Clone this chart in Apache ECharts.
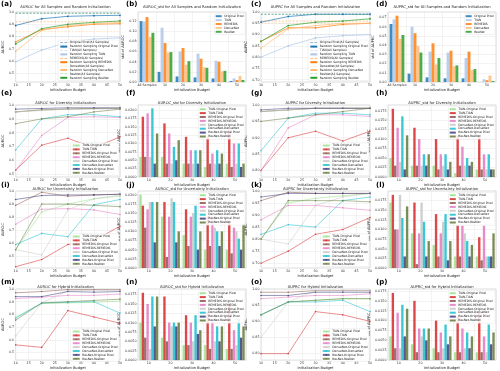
<!DOCTYPE html>
<html><head><meta charset="utf-8">
<script src="https://cdn.jsdelivr.net/npm/echarts@6/dist/echarts.min.js"></script>
<style>html,body{margin:0;padding:0;background:#fff}#c{width:500px;height:371px}</style>
</head><body><div id="c"></div>
<script>
// ---------- data ----------
const budgets = [10, 20, 30, 40, 50];
const barCatsAll = ['All Samples', '10', '20', '30', '40', '50'];
const barCats = ['10', '20', '30', '40', '50'];

const modelsA = ['Original Pixel', 'TIAN', 'REMEDIS', 'DenseNet', 'ResNet'];
const colorsA = ['#1f77b4', '#aec7e8', '#ff7f0e', '#ffbb78', '#2ca02c'];
const pairNames = ['TIAN-Original Pixel', 'TIAN-TIAN', 'REMEDIS-Original Pixel', 'REMEDIS-REMEDIS',
  'DenseNet-Original Pixel', 'DenseNet-DenseNet', 'ResNet-Original Pixel', 'ResNet-ResNet'];
const pairColors = ['#98df8a', '#d62728', '#8c564b', '#e377c2', '#c7c7c7', '#17becf', '#393b79', '#637939'];

// (a) AUROC all samples (horizontal) + random sampling
const a_all = [0.99, 0.80, 0.92, 0.84, 0.99];
const a_rand = [
  [0.89, 0.945, 0.965, 0.97, 0.973],
  [0.595, 0.69, 0.755, 0.78, 0.79],
  [0.757, 0.857, 0.88, 0.90, 0.905],
  [0.68, 0.85, 0.89, 0.905, 0.915],
  [0.74, 0.865, 0.90, 0.916, 0.927]
];
// (b) AUROC std
const b_std = [
  [0.120, 0.020, 0.011, 0.009, 0.007, 0.002],
  [0.119, 0.107, 0.060, 0.056, 0.042, 0.007],
  [0.128, 0.077, 0.067, 0.046, 0.040, 0.004],
  [0.089, 0.058, 0.034, 0.029, 0.021, 0.012],
  [0.097, 0.059, 0.041, 0.028, 0.022, 0.004]
];
// (c) AUPRC all samples + random
const c_all = [0.99, 0.90, 0.96, 0.95, 0.99];
const c_rand = [
  [0.955, 0.98, 0.99, 0.99, 0.99],
  [0.80, 0.85, 0.885, 0.895, 0.90],
  [0.87, 0.93, 0.93, 0.945, 0.95],
  [0.84, 0.925, 0.94, 0.95, 0.95],
  [0.87, 0.94, 0.955, 0.96, 0.97]
];
// (d) AUPRC std
const d_std = [
  [0.063, 0.009, 0.005, 0.004, 0.004, 0.000],
  [0.068, 0.060, 0.033, 0.032, 0.026, 0.003],
  [0.072, 0.053, 0.042, 0.034, 0.033, 0.002],
  [0.047, 0.039, 0.019, 0.017, 0.013, 0.007],
  [0.051, 0.032, 0.026, 0.018, 0.014, 0.001]
];
// (e) AUROC diversity
const e_vals = [
  [0.95, 0.965, 0.97, 0.975, 0.975],
  [0.53, 0.71, 0.76, 0.69, 0.77],
  [0.95, 0.965, 0.97, 0.975, 0.975],
  [0.527, 0.78, 0.91, 0.915, 0.91],
  [0.95, 0.96, 0.97, 0.97, 0.975],
  [0.675, 0.90, 0.93, 0.93, 0.915],
  [0.97, 0.975, 0.98, 0.98, 0.98],
  [0.865, 0.90, 0.915, 0.95, 0.97]
];
// (f) AUROC std diversity  (rows = pairs, cols = budgets)
const f_std = [
  [0.006, 0.006, 0.004, 0.003, 0.004],
  [0.018, 0.016, 0.012, 0.012, 0.014],
  [0.006, 0.004, 0.004, 0.004, 0.003],
  [0.019, 0.013, 0.008, 0.007, 0.010],
  [0.006, 0.004, 0.004, 0.004, 0.004],
  [0.0205, 0.009, 0.008, 0.008, 0.010],
  [0.004, 0.005, 0.004, 0.004, 0.003],
  [0.013, 0.011, 0.008, 0.007, 0.004]
];
// (g) AUPRC diversity
const g_vals = [
  [0.98, 0.985, 0.99, 0.99, 0.99],
  [0.80, 0.90, 0.92, 0.89, 0.92],
  [0.98, 0.985, 0.99, 0.99, 0.99],
  [0.80, 0.93, 0.97, 0.97, 0.965],
  [0.98, 0.985, 0.99, 0.99, 0.99],
  [0.86, 0.96, 0.975, 0.975, 0.97],
  [0.985, 0.99, 0.99, 0.99, 0.99],
  [0.95, 0.96, 0.97, 0.98, 0.99]
];
// (h) AUPRC std diversity
const h_std = [
  [0.005, 0.003, 0.003, 0.001, 0.002],
  [0.018, 0.013, 0.010, 0.011, 0.011],
  [0.003, 0.003, 0.002, 0.003, 0.002],
  [0.013, 0.010, 0.006, 0.008, 0.006],
  [0.004, 0.003, 0.003, 0.003, 0.002],
  [0.016, 0.006, 0.006, 0.005, 0.006],
  [0.002, 0.003, 0.002, 0.003, 0.002],
  [0.011, 0.006, 0.004, 0.004, 0.002]
];
// (i) AUROC uncertainty
const i_vals = [
  [0.55, 0.84, 0.90, 0.94, 0.96],
  [0.42, 0.475, 0.59, 0.62, 0.73],
  [0.89, 0.99, 0.96, 0.97, 0.975],
  [0.745, 0.86, 0.865, 0.855, 0.82],
  [0.55, 0.51, 0.855, 0.94, 0.97],
  [0.59, 0.675, 0.65, 0.895, 0.935],
  [0.935, 0.965, 0.97, 0.97, 0.975],
  [0.55, 0.90, 0.90, 0.89, 0.88]
];
// (j) AUROC std uncertainty
const j_std = [
  [0.020, 0.014, 0.009, 0.005, 0.005],
  [0.017, 0.018, 0.016, 0.014, 0.013],
  [0.011, 0.003, 0.006, 0.006, 0.004],
  [0.016, 0.014, 0.014, 0.014, 0.011],
  [0.018, 0.019, 0.015, 0.011, 0.010],
  [0.018, 0.018, 0.017, 0.010, 0.008],
  [0.007, 0.007, 0.005, 0.006, 0.005],
  [0.018, 0.010, 0.010, 0.010, 0.012]
];
// (k) AUPRC uncertainty
const k_vals = [
  [0.80, 0.95, 0.97, 0.98, 0.99],
  [0.70, 0.75, 0.82, 0.84, 0.89],
  [0.96, 0.995, 0.99, 0.99, 0.99],
  [0.88, 0.94, 0.94, 0.93, 0.92],
  [0.80, 0.78, 0.94, 0.975, 0.99],
  [0.82, 0.86, 0.85, 0.96, 0.975],
  [0.975, 0.99, 0.99, 0.99, 0.99],
  [0.80, 0.96, 0.96, 0.96, 0.955]
];
// (l) AUPRC std uncertainty
const l_std = [
  [0.017, 0.009, 0.006, 0.003, 0.003],
  [0.019, 0.017, 0.014, 0.011, 0.008],
  [0.010, 0.001, 0.003, 0.003, 0.002],
  [0.010, 0.009, 0.009, 0.011, 0.011],
  [0.019, 0.017, 0.012, 0.009, 0.003],
  [0.013, 0.012, 0.014, 0.007, 0.003],
  [0.003, 0.003, 0.002, 0.003, 0.003],
  [0.016, 0.007, 0.007, 0.006, 0.009]
];
// (m) AUROC hybrid
const m_vals = [
  [0.78, 0.885, 0.89, 0.895, 0.905],
  [0.56, 0.54, 0.83, 0.78, 0.73],
  [0.97, 0.98, 0.995, 0.995, 0.995],
  [0.925, 0.935, 0.95, 0.95, 0.96],
  [0.63, 0.89, 0.985, 0.99, 0.99],
  [0.77, 0.89, 0.895, 0.90, 0.81],
  [0.94, 0.94, 0.98, 0.975, 0.98],
  [0.755, 0.89, 0.90, 0.91, 0.92]
];
// (n) AUROC std hybrid
const n_std = [
  [0.010, 0.006, 0.004, 0.004, 0.003],
  [0.018, 0.017, 0.012, 0.013, 0.015],
  [0.006, 0.005, 0.004, 0.003, 0.003],
  [0.015, 0.010, 0.010, 0.011, 0.008],
  [0.003, 0.009, 0.005, 0.005, 0.004],
  [0.017, 0.010, 0.012, 0.009, 0.011],
  [0.009, 0.009, 0.007, 0.005, 0.006],
  [0.017, 0.010, 0.008, 0.009, 0.009]
];
// (o) AUPRC hybrid
const o_vals = [
  [0.92, 0.96, 0.965, 0.97, 0.97],
  [0.80, 0.80, 0.93, 0.92, 0.90],
  [0.99, 0.99, 0.995, 0.995, 0.995],
  [0.97, 0.975, 0.98, 0.98, 0.985],
  [0.85, 0.96, 0.995, 0.995, 0.995],
  [0.92, 0.96, 0.96, 0.965, 0.93],
  [0.98, 0.98, 0.99, 0.99, 0.99],
  [0.92, 0.96, 0.965, 0.97, 0.97]
];
// (p) AUPRC std hybrid
const p_std = [
  [0.006, 0.004, 0.003, 0.002, 0.002],
  [0.017, 0.015, 0.010, 0.011, 0.012],
  [0.003, 0.002, 0.002, 0.002, 0.002],
  [0.012, 0.008, 0.007, 0.008, 0.006],
  [0.003, 0.006, 0.003, 0.003, 0.002],
  [0.014, 0.008, 0.009, 0.007, 0.009],
  [0.006, 0.005, 0.004, 0.003, 0.004],
  [0.013, 0.008, 0.006, 0.006, 0.007]
];

// ---------- layout ----------
const colX = [0, 125, 250, 375];
const rowTop = [12, 105, 191, 289];
const rowH = [70, 72, 77, 74];
const labelY = [1, 90, 182, 279];
const titleY = [5, 101, 187, 285];

const panels = [
  {lab:'(a)', kind:'lineA', title:'AUROC for All Samples and Random Initialization', yName:'AUROC', all:a_all, vals:a_rand, yMin:0.43, yMax:1.0, ticks:[0.5,0.6,0.7,0.8,0.9,1.0], dec:1},
  {lab:'(b)', kind:'barA', title:'AUROC_std for All Samples and Random Initialization', yName:'std of AUROC', vals:b_std, yMin:0, yMax:0.138, ticks:[0,0.02,0.04,0.06,0.08,0.10,0.12], dec:2},
  {lab:'(c)', kind:'lineA', title:'AUPRC for All Samples and Random Initialization', yName:'AUPRC', all:c_all, vals:c_rand, yMin:0.69, yMax:1.0, ticks:[0.70,0.75,0.80,0.85,0.90,0.95,1.00], dec:2},
  {lab:'(d)', kind:'barA', title:'AUPRC_std for All Samples and Random Initialization', yName:'std of AUPRC', vals:d_std, yMin:0, yMax:0.076, ticks:[0,0.01,0.02,0.03,0.04,0.05,0.06,0.07], dec:2},
  {lab:'(e)', kind:'lineP', title:'AUROC for Diversity Initialization', yName:'AUROC', vals:e_vals, yMin:0.48, yMax:1.0, ticks:[0.5,0.6,0.7,0.8,0.9,1.0], dec:1},
  {lab:'(f)', kind:'barP', title:'AUROC_std for Diversity Initialization', yName:'std of AUROC', vals:f_std, yMin:0, yMax:0.0215, ticks:[0,0.0025,0.005,0.0075,0.01,0.0125,0.015,0.0175,0.02], dec:4},
  {lab:'(g)', kind:'lineP', title:'AUPRC for Diversity Initialization', yName:'AUPRC', vals:g_vals, yMin:0.78, yMax:1.0, ticks:[0.80,0.85,0.90,0.95,1.00], dec:2},
  {lab:'(h)', kind:'barP', title:'AUPRC_std for Diversity Initialization', yName:'std of AUPRC', vals:h_std, yMin:0, yMax:0.019, ticks:[0,0.0025,0.005,0.0075,0.01,0.0125,0.015,0.0175], dec:4},
  {lab:'(i)', kind:'lineP', title:'AUROC for Uncertainty Initialization', yName:'AUROC', vals:i_vals, yMin:0.41, yMax:1.0, ticks:[0.5,0.6,0.7,0.8,0.9,1.0], dec:1},
  {lab:'(j)', kind:'barP', title:'AUROC_std for Uncertainty Initialization', yName:'std of AUROC', vals:j_std, yMin:0, yMax:0.021, ticks:[0,0.0025,0.005,0.0075,0.01,0.0125,0.015,0.0175,0.02], dec:4},
  {lab:'(k)', kind:'lineP', title:'AUPRC for Uncertainty Initialization', yName:'AUPRC', vals:k_vals, yMin:0.68, yMax:1.0, ticks:[0.7,0.75,0.8,0.85,0.9,0.95,1.0], dec:2},
  {lab:'(l)', kind:'barP', title:'AUPRC_std for Uncertainty Initialization', yName:'std of AUPRC', vals:l_std, yMin:0, yMax:0.020, ticks:[0,0.0025,0.005,0.0075,0.01,0.0125,0.015,0.0175], dec:4},
  {lab:'(m)', kind:'lineP', title:'AUROC for Hybrid Initialization', yName:'AUROC', vals:m_vals, yMin:0.44, yMax:1.0, ticks:[0.5,0.6,0.7,0.8,0.9,1.0], dec:1},
  {lab:'(n)', kind:'barP', title:'AUROC_std for Hybrid Initialization', yName:'std of AUROC', vals:n_std, yMin:0, yMax:0.019, ticks:[0,0.0025,0.005,0.0075,0.01,0.0125,0.015,0.0175], dec:4},
  {lab:'(o)', kind:'lineP', title:'AUPRC for Hybrid Initialization', yName:'AUPRC', vals:o_vals, yMin:0.78, yMax:1.0, ticks:[0.80,0.85,0.90,0.95,1.00], dec:2},
  {lab:'(p)', kind:'barP', title:'AUPRC_std for Hybrid Initialization', yName:'std of AUPRC', vals:p_std, yMin:0, yMax:0.018, ticks:[0,0.0025,0.005,0.0075,0.01,0.0125,0.015,0.0175], dec:4}
];

const FS = 3.3;
const option = {
  animation: false, backgroundColor: '#fff',
  title: [], grid: [], xAxis: [], yAxis: [], series: [], legend: [], graphic: []
};

panels.forEach((p, idx) => {
  const col = idx % 4, row = Math.floor(idx / 4);
  const isBar = p.kind.startsWith('bar');
  const left = colX[col] + (isBar ? 13 : 11);
  const width = isBar ? 108 : 109;
  const top = rowTop[row], height = rowH[row];
  option.grid.push({left, top, width, height, show: true, borderColor: '#bbb', borderWidth: 0.5, backgroundColor: '#fff'});
  option.graphic.push({type: 'text', left: colX[col] + 1, top: labelY[row], style: {text: p.lab, font: 'bold 7px "DejaVu Sans"', fill: '#000'}});
  option.title.push({text: p.title, left: left + width / 2, top: titleY[row], textAlign: 'center',
    textStyle: {fontSize: 3.7, fontWeight: 'normal', color: '#222', fontFamily: 'DejaVu Sans'}, padding: 0});
  const axisCommon = {
    gridIndex: idx, nameLocation: 'middle',
    nameTextStyle: {fontSize: 3.6, color: '#222', fontFamily: 'DejaVu Sans'},
    axisLine: {show: false}, axisTick: {show: false},
    splitLine: {show: true, lineStyle: {color: '#e6e6e6', width: 0.5}}
  };
  if (isBar) {
    option.xAxis.push(Object.assign({}, axisCommon, {type: 'category', data: p.kind === 'barA' ? barCatsAll : barCats,
      name: 'Initialization Budget', nameGap: 5.5,
      axisLabel: {fontSize: FS, color: '#333', margin: 2, fontFamily: 'DejaVu Sans', interval: 0},
      splitLine: {show: true, interval: 0, lineStyle: {color: '#e6e6e6', width: 0.5}}}));
  } else {
    option.xAxis.push(Object.assign({}, axisCommon, {type: 'value', min: 10, max: 50, interval: 5,
      name: 'Initialization Budget', nameGap: 5.5,
      axisLabel: {fontSize: FS, color: '#333', margin: 2, fontFamily: 'DejaVu Sans'}}));
  }
  option.yAxis.push(Object.assign({}, axisCommon, {type: 'value', min: p.yMin, max: p.yMax,
    name: p.yName, nameGap: isBar ? 10 : 7,
    axisLabel: {fontSize: FS, color: '#333', margin: 1.5, fontFamily: 'DejaVu Sans',
      customValues: p.ticks, formatter: v => v.toFixed(p.dec)},
    axisTick: {show: false, customValues: p.ticks}}));

  const legendData = [];
  const pref = p.lab + '|';
  if (p.kind === 'lineA') {
    modelsA.forEach((m, k) => {
      const n1 = pref + m + '(All Samples)';
      const n2 = pref + 'Random Sampling ' + m;
      option.series.push({type: 'line', name: n1, xAxisIndex: idx, yAxisIndex: idx,
        data: budgets.map((b, t) => [b, p.all[k]]), symbol: 'none',
        lineStyle: {color: colorsA[k], width: 0.7, type: [2, 1.5], opacity: 0.6}, itemStyle: {color: colorsA[k]}});
      option.series.push({type: 'line', name: n2, xAxisIndex: idx, yAxisIndex: idx,
        data: budgets.map((b, t) => [b, p.vals[k][t]]), symbol: 'circle', symbolSize: 1.8,
        lineStyle: {color: colorsA[k], width: 0.7}, itemStyle: {color: colorsA[k]}});
      legendData.push({name: n1, icon: 'path://M0,1 L4,1 L4,1.6 L0,1.6 Z M6,1 L10,1 L10,1.6 L6,1.6 Z'});
      legendData.push({name: n2});
    });
  } else if (p.kind === 'lineP') {
    pairNames.forEach((m, k) => {
      const n = pref + m;
      option.series.push({type: 'line', name: n, xAxisIndex: idx, yAxisIndex: idx,
        data: budgets.map((b, t) => [b, p.vals[k][t]]), symbol: 'circle', symbolSize: 1.6,
        lineStyle: {color: pairColors[k], width: 0.7, opacity: 0.75}, itemStyle: {color: pairColors[k], opacity: 0.8}});
      legendData.push({name: n});
    });
  } else {
    const names = p.kind === 'barA' ? modelsA : pairNames;
    const cols = p.kind === 'barA' ? colorsA : pairColors;
    names.forEach((m, k) => {
      const n = pref + m;
      option.series.push({type: 'bar', name: n, xAxisIndex: idx, yAxisIndex: idx,
        data: p.vals[k], itemStyle: {color: cols[k], opacity: 0.85},
        barGap: '0%', barCategoryGap: p.kind === 'barA' ? '18%' : '12%'});
      legendData.push({name: n, icon: 'rect'});
    });
  }
  const legendRight = 500 - (left + width) + 1;
  const leg = {
    data: legendData, orient: 'vertical', right: legendRight,
    itemWidth: p.kind.startsWith('line') ? 7 : 6, itemHeight: 2, itemGap: 0.9,
    textStyle: {fontSize: 3.0, lineHeight: 2.5, color: '#222', fontFamily: 'DejaVu Sans', padding: [0, 0, 0, -2.5]},
    formatter: nm => nm.split('|')[1],
    backgroundColor: 'rgba(255,255,255,0.85)', borderColor: '#ddd', borderWidth: 0.4, borderRadius: 1, padding: 1.2,
    selectedMode: false
  };
  if (isBar) leg.top = top + 1.5; else leg.bottom = 371 - (top + height) + 1.5;
  option.legend.push(leg);
});

const chart = echarts.init(document.getElementById('c'), null, {renderer: 'canvas'});
chart.setOption(option);
</script></body></html>
